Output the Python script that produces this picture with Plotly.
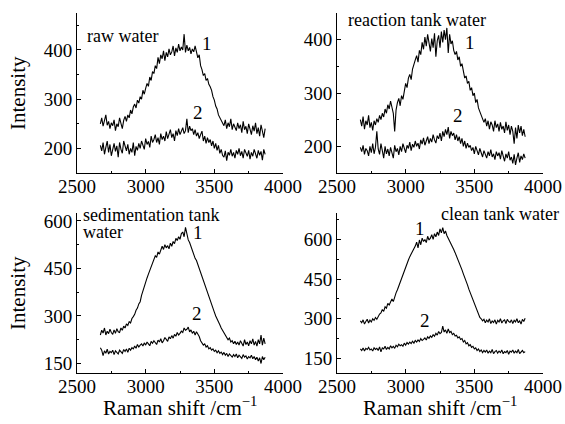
import plotly.graph_objects as go

# Raman shift sample grid (cm^-1), 2670 ... 3870 in steps of 10
shift = list(range(2670, 3871, 10))

raw_1 = [250, 262, 245, 258, 268, 247, 255, 240, 252, 246,
         258, 236, 250, 244, 262, 251, 240, 257, 265, 255,
         268, 262, 278, 270, 284, 290, 282, 298, 292, 305,
         300, 318, 310, 322, 332, 326, 345, 338, 356, 352,
         368, 362, 385, 372, 390, 382, 398, 378, 395, 386,
         402, 390, 396, 408, 388, 404, 395, 412, 398, 406,
         400, 432, 395, 410, 398, 405, 392, 402, 396, 408,
         398, 384, 390, 368, 360, 348, 352, 338, 342, 330,
         325, 318, 305, 298, 286, 280, 268, 262, 255, 250,
         246, 258, 240, 252, 244, 260, 238, 250, 242, 236,
         252, 240, 248, 232, 255, 238, 245, 230, 250, 236,
         228, 246, 235, 252, 230, 242, 225, 248, 236, 222,
         240]
raw_2 = [206, 195, 212, 188, 202, 215, 192, 208, 185, 200,
         210, 194, 205, 182, 212, 198, 190, 215, 202, 195,
         208, 188, 200, 192, 212, 185, 204, 196, 210, 200,
         215, 205, 198, 220, 208, 214, 202, 225, 212, 218,
         228, 212, 222, 208, 230, 218, 225, 215, 234, 220,
         228, 238, 222, 230, 215, 236, 226, 240, 228, 234,
         242, 230, 236, 260, 232, 245, 236, 240, 228, 238,
         225, 232, 220, 228, 235, 215, 225, 210, 222, 212,
         218, 205, 215, 200, 210, 196, 206, 190, 198, 186,
         182, 195, 175, 192, 186, 198, 184, 192, 180, 196,
         188, 200, 185, 194, 180, 198, 190, 184, 196, 178,
         192, 184, 198, 188, 180, 196, 186, 194, 176, 198,
         188]

reaction_1 = [250, 238, 256, 232, 248, 240, 258, 235, 245, 230,
              248, 240, 252, 245, 258, 250, 262, 255, 270, 262,
              278, 270, 285, 275, 262, 228, 268, 282, 290, 276,
              295, 288, 305, 318, 310, 328, 335, 325, 345, 352,
              362, 370, 358, 380, 372, 395, 382, 405, 388, 410,
              392, 378, 402, 385, 412, 368, 398, 408, 385, 415,
              395, 418, 400, 422, 375, 410, 392, 398, 380, 372,
              378, 362, 368, 350, 355, 338, 328, 332, 318, 322,
              305, 310, 295, 300, 282, 288, 272, 265, 258, 250,
              245, 252, 238, 248, 232, 246, 240, 228, 248, 235,
              242, 228, 245, 232, 238, 225, 246, 230, 240, 222,
              238, 228, 205, 235, 215, 240, 225, 238, 220, 232,
              218]
reaction_2 = [198, 190, 202, 185, 196, 192, 182, 200, 188, 205,
              186, 198, 228, 195, 185, 205, 192, 178, 200, 186,
              195, 182, 198, 188, 178, 202, 190, 196, 184, 200,
              190, 205, 195, 188, 202, 196, 208, 192, 204, 198,
              210, 200, 206, 195, 212, 204, 216, 202, 210, 218,
              205, 215, 208, 222, 212, 206, 220, 214, 225, 210,
              228, 218, 232, 222, 236, 215, 228, 220, 225, 212,
              222, 210, 218, 205, 215, 200, 210, 196, 206, 198,
              202, 192, 198, 186, 200, 190, 184, 196, 188, 180,
              192, 185, 178, 190, 182, 194, 180, 186, 175, 190,
              182, 188, 176, 192, 180, 172, 186, 178, 190, 174,
              180, 168, 185, 165, 178, 188, 170, 182, 175, 186,
              178]

sediment_1 = [240, 255, 246, 262, 240, 252, 244, 258, 248, 242,
              256, 245, 260, 250, 248, 262, 255, 268, 262, 275,
              270, 282, 278, 292, 298, 305, 318, 325, 338, 345,
              365, 380, 398, 405, 420, 432, 445, 458, 470, 478,
              490, 485, 502, 495, 508, 520, 510, 525, 515, 522,
              512, 530, 520, 535, 528, 545, 538, 550, 542, 560,
              565, 550, 580, 560, 540, 532, 518, 505, 495, 482,
              475, 462, 448, 440, 428, 412, 398, 385, 372, 358,
              345, 335, 322, 312, 300, 292, 282, 272, 262, 255,
              245, 238, 232, 225, 230, 218, 222, 212, 220, 210,
              218, 208, 222, 212, 205, 225, 210, 218, 206, 222,
              212, 228, 208, 220, 205, 225, 212, 240, 208, 230,
              212]
sediment_2 = [200, 192, 175, 190, 182, 195, 180, 188, 184, 192,
              178, 190, 185, 180, 192, 186, 182, 194, 188, 196,
              185, 198, 192, 200, 196, 205, 198, 210, 202, 208,
              212, 205, 215, 208, 218, 212, 206, 220, 214, 222,
              216, 210, 224, 218, 228, 215, 222, 232, 226, 220,
              234, 228, 238, 230, 242, 236, 248, 240, 245, 252,
              248, 262, 255, 258, 265, 250, 256, 245, 252, 240,
              250, 242, 235, 222, 215, 208, 212, 202, 206, 196,
              200, 192, 196, 188, 192, 184, 190, 182, 186, 178,
              185, 176, 182, 172, 180, 175, 170, 178, 172, 180,
              168, 176, 172, 166, 178, 170, 174, 164, 172, 168,
              176, 165, 172, 162, 170, 158, 168, 150, 172, 162,
              170]

clean_1 = [292, 285, 296, 280, 290, 298, 284, 295, 288, 300,
           294, 305, 298, 310, 318, 322, 335, 328, 345, 340,
           358, 352, 368, 375, 365, 385, 398, 410, 425, 440,
           455, 468, 482, 495, 510, 522, 535, 545, 552, 565,
           575, 590, 568, 598, 580, 605, 592, 600, 588, 612,
           598, 605, 618, 600, 622, 610, 628, 615, 640, 625,
           645, 622, 632, 615, 605, 598, 585, 575, 562, 550,
           538, 525, 510, 498, 485, 470, 458, 440, 428, 412,
           398, 385, 372, 358, 342, 330, 318, 305, 300, 292,
           298, 285, 295, 288, 300, 282, 292, 286, 296, 280,
           294, 288, 300, 284, 292, 296, 282, 298, 290, 286,
           296, 282, 294, 288, 300, 285, 292, 280, 298, 290,
           302]
clean_2 = [186, 180, 190, 178, 188, 184, 192, 182, 186, 178,
           190, 184, 188, 180, 194, 175, 190, 186, 196, 184,
           192, 186, 198, 190, 196, 188, 200, 194, 204, 198,
           202, 196, 208, 200, 210, 204, 212, 206, 215, 208,
           218, 212, 220, 214, 225, 218, 222, 228, 220, 232,
           226, 235, 230, 240, 234, 245, 238, 252, 244, 248,
           272, 250, 258, 245, 262, 248, 252, 240, 245, 235,
           238, 228, 232, 222, 225, 212, 218, 205, 210, 198,
           202, 192, 196, 186, 190, 180, 186, 176, 182, 172,
           180, 174, 182, 170, 178, 172, 184, 168, 176, 180,
           170, 178, 172, 182, 168, 176, 172, 180, 166, 178,
           174, 182, 170, 178, 172, 184, 168, 176, 180, 172,
           176]

# panel names: list of text lines per panel
panel_names = [["raw water"], ["reaction tank water"],
               ["sedimentation tank", "water"], ["clean tank water"]]
series = [(raw_1, raw_2), (reaction_1, reaction_2), (sediment_1, sediment_2), (clean_1, clean_2)]
y_ranges = [[150, 475], [150, 450], [120, 625], [95, 700]]
y_dticks = [100, 100, 150, 150]
x_ticks = [2500, 3000, 3500, 4000]
label1_pos = [(3450, 414), (3468, 394), (3380, 562), (3104, 641)]
label2_pos = [(3381, 273), (3381, 258), (3374, 308), (3141, 292)]

FONT = "Liberation Serif, Times New Roman, serif"
W, H = 565, 424


def px_x(p):
    return p / W


def px_y(p):
    return 1 - p / H


x_doms = [[px_x(77), px_x(283)], [px_x(337), px_x(543)]]
y_doms = [[px_y(173), px_y(13)], [px_y(373), px_y(213)]]
# panel-name line positions in pixels: (x, y_center_of_first_line, anchor)
name_px = [(86, 36, "left"), (347, 20, "left"), (82, 215, "left"), (560, 214, "right")]
LINE_GAP = 17

fig = go.Figure()
layout = dict(
    width=W, height=H, margin=dict(l=0, r=0, t=0, b=0, autoexpand=False),
    paper_bgcolor="white", plot_bgcolor="white", showlegend=False,
    font=dict(family=FONT, size=19, color="black"),
)
annotations = []
for i in range(4):
    row, col = divmod(i, 2)
    ax = "" if i == 0 else str(i + 1)
    s1, s2 = series[i]
    for s in (s1, s2):
        fig.add_trace(go.Scatter(x=shift, y=s, mode="lines",
                                 line=dict(color="black", width=1.1),
                                 xaxis="x" + ax, yaxis="y" + ax,
                                 hoverinfo="skip"))
    layout["xaxis" + ax] = dict(
        domain=x_doms[col], range=[2500, 4000], anchor="y" + ax,
        showline=True, linecolor="black", linewidth=1, showgrid=False,
        zeroline=False, ticks="inside", ticklen=4, tickcolor="black",
        tickmode="array", tickvals=x_ticks, ticklabelstandoff=-4,
        tickfont=dict(family=FONT, size=19), automargin=False,
        minor=dict(ticks="inside", ticklen=2, dtick=250, tickcolor="black"),
    )
    layout["yaxis" + ax] = dict(
        domain=y_doms[row], range=y_ranges[i], anchor="x" + ax,
        showline=True, linecolor="black", linewidth=1, showgrid=False,
        zeroline=False, ticks="inside", ticklen=4, tickcolor="black",
        tick0=0, dtick=y_dticks[i], tickfont=dict(family=FONT, size=19),
        automargin=False,
        minor=dict(ticks="inside", ticklen=2, dtick=y_dticks[i] // 2, tickcolor="black"),
    )
    for txt, (dx, dy) in (("1", label1_pos[i]), ("2", label2_pos[i])):
        annotations.append(dict(x=dx, y=dy, xref="x" + ax, yref="y" + ax, text=txt,
                                showarrow=False, font=dict(family=FONT, size=19),
                                xanchor="center", yanchor="middle", borderpad=0))
    nx, ny, anc = name_px[i]
    for k, line in enumerate(panel_names[i]):
        annotations.append(dict(x=px_x(nx), y=px_y(ny + k * LINE_GAP), xref="paper", yref="paper",
                                text=line, showarrow=False,
                                font=dict(family=FONT, size=18),
                                xanchor=anc, yanchor="middle", borderpad=0))

for yc in (93, 293):
    annotations.append(dict(x=px_x(18), y=px_y(yc), xref="paper", yref="paper",
                            text="Intensity", textangle=-90, showarrow=False,
                            font=dict(family=FONT, size=21),
                            xanchor="center", yanchor="middle"))
for xc in (180, 440):
    annotations.append(dict(x=px_x(xc), y=px_y(406), xref="paper", yref="paper",
                            text="Raman shift /cm<sup>−1</sup>", showarrow=False,
                            font=dict(family=FONT, size=21),
                            xanchor="center", yanchor="middle"))
layout["annotations"] = annotations
fig.update_layout(**layout)
fig.write_html("out.html", config={"displayModeBar": False},
               post_script="document.body.style.margin='0px';document.body.style.overflow='hidden';")
